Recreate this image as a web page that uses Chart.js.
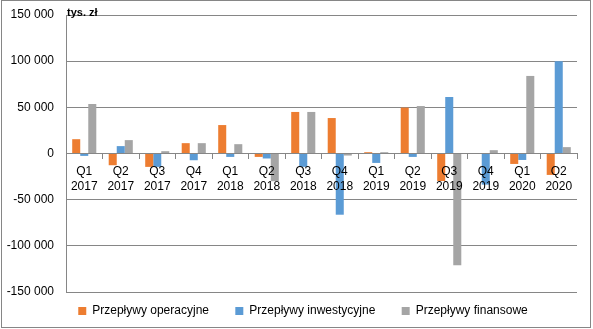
<!DOCTYPE html>
<html><head><meta charset="utf-8">
<script src="https://cdn.jsdelivr.net/npm/chart.js@4"></script>
<style>html,body{margin:0;padding:0;background:#fff;}</style>
</head><body>
<canvas id="c" width="593" height="329" style="display:block"></canvas>
<script>
const categories = [['Q1','2017'],['Q2','2017'],['Q3','2017'],['Q4','2017'],['Q1','2018'],['Q2','2018'],['Q3','2018'],['Q4','2018'],['Q1','2019'],['Q2','2019'],['Q3','2019'],['Q4','2019'],['Q1','2020'],['Q2','2020']];
const seriesNames = ['Przepływy operacyjne','Przepływy inwestycyjne','Przepływy finansowe'];
const operacyjne   = [15500, -12700, -14500, 11200, 30800, -3700, 45000, 38400, 1400, 49700, -29800, 0, -11300, -23200];
const inwestycyjne = [-2600, 8000, -14500, -7300, -3700, -5400, -14500, -66300, -10200, -3700, 61200, -33700, -7000, 100000];
const finansowe    = [53600, 14500, 2500, 11200, 10100, -30000, 45000, -2200, 1400, 51400, -121000, 3600, 84000, 6900];
const yMin = -150000, yMax = 150000, yStep = 50000;
const unitLabel = 'tys. zł';
const colors = ['#ED7D31','#5B9BD5','#A5A5A5'];

function fmt(v){
  const s = String(Math.abs(v)).replace(/\B(?=(\d{3})+(?!\d))/g,' ');
  return (v < 0 ? '-' : '') + s;
}

Chart.defaults.font.family = "'Liberation Sans', Arial, sans-serif";
Chart.defaults.font.size = 12;
Chart.defaults.color = '#000';

const decor = {
  id: 'decor',
  beforeDraw(chart){
    if (chart.scales.y) chart.scales.y._computeLabelArea = function(){ return undefined; };
    const c = chart.ctx; c.save();
    c.fillStyle = '#fff'; c.fillRect(0,0,chart.width,chart.height);
    c.strokeStyle = '#868686'; c.lineWidth = 1; c.strokeRect(1.5,0.5,589,327);
    c.restore();
  },
  afterDraw(chart){
    const c = chart.ctx; c.save();
    c.font = "bold 11px 'Liberation Sans', Arial, sans-serif";
    c.fillStyle = '#000'; c.textBaseline = 'middle'; c.textAlign = 'left';
    c.fillText(unitLabel, chart.chartArea.left + 1, chart.chartArea.top - 2);
    c.restore();
  }
};

const series = [operacyjne, inwestycyjne, finansowe];
new Chart(document.getElementById('c'), {
  type: 'bar',
  data: {
    labels: categories,
    datasets: series.map((d,i) => ({
      label: seriesNames[i], data: d, backgroundColor: colors[i], borderWidth: 0,
      categoryPercentage: 0.66, barPercentage: 1.0
    }))
  },
  options: {
    responsive: false, animation: false,
    layout: { padding: { left: 29, right: 16, top: 15, bottom: 2 } },
    plugins: {
      tooltip: { enabled: false },
      legend: {
        position: 'bottom',
        labels: {
          boxWidth: 8, boxHeight: 8, padding: 13, color: '#000',
          generateLabels(chart){
            const items = Chart.defaults.plugins.legend.labels.generateLabels(chart);
            items.forEach((it,i) => { if (i < items.length - 1) it.text = it.text + '    '; });
            return items;
          }
        }
      }
    },
    scales: {
      y: {
        min: yMin, max: yMax,
        ticks: { stepSize: yStep, callback: v => fmt(v), color: '#000', padding: 0 },
        grid: { color: '#868686', drawTicks: true, tickLength: 12, tickColor: 'rgba(0,0,0,0)' },
        border: { color: '#868686' },
        afterFit(s){ s.width = 37; }
      },
      x: {
        position: { y: 0 },
        grid: { drawOnChartArea: false, tickLength: 5, color: '#868686', offset: true, z: 1 },
        border: { color: '#868686', z: 1 },
        ticks: { z: 1, color: '#000', padding: 6, maxRotation: 0, autoSkip: false, font: { size: 12, lineHeight: 1.25 } }
      }
    }
  },
  plugins: [decor]
});
</script>
</body></html>
